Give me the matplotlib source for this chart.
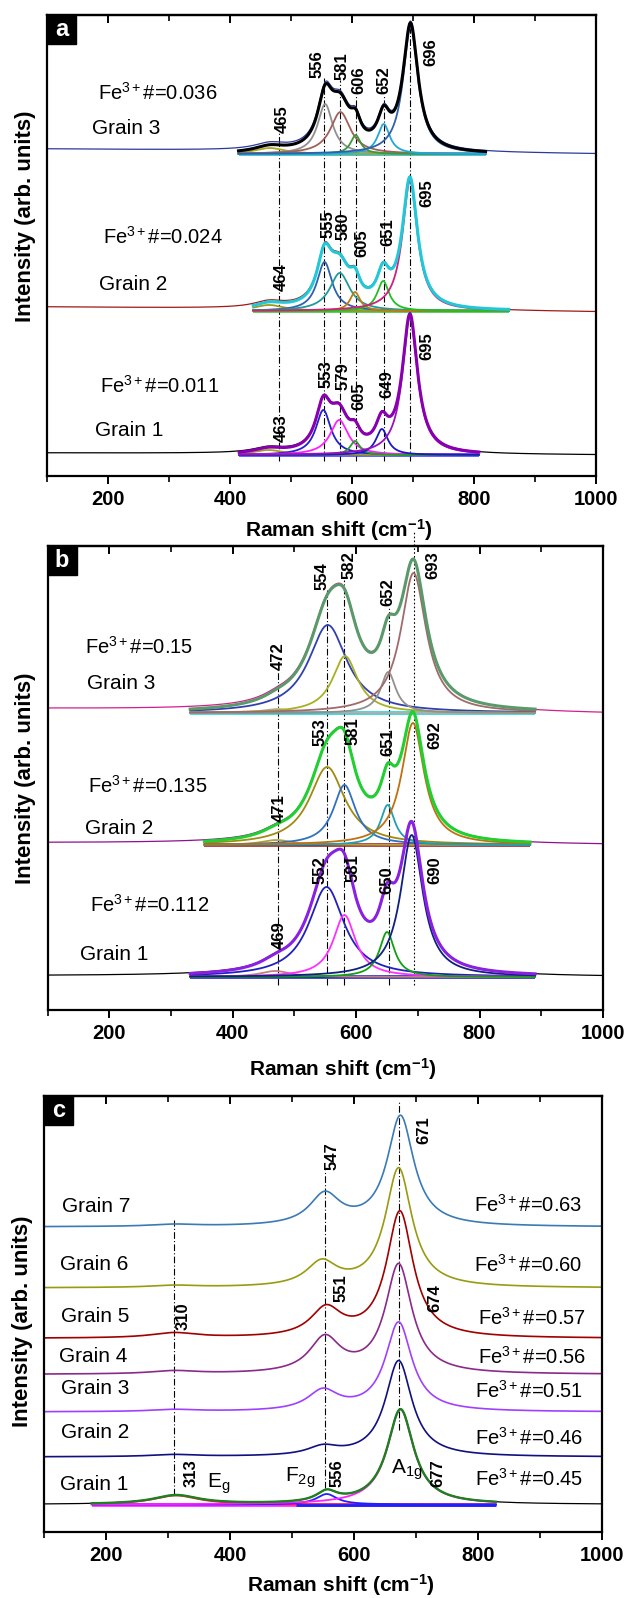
import numpy as np
import matplotlib
matplotlib.use('Agg')
import matplotlib.pyplot as plt
from matplotlib.patches import Rectangle

plt.rcParams['font.family'] = ['Liberation Sans', 'DejaVu Sans']
plt.rcParams['mathtext.fontset'] = 'custom'
plt.rcParams['mathtext.rm'] = 'Liberation Sans'
plt.rcParams['mathtext.it'] = 'Liberation Sans:italic'
plt.rcParams['mathtext.bf'] = 'Liberation Sans:bold'

# ---------------- panel a : three grains, Lorentzian fit components ----------------
a_grains = ['Grain 3', 'Grain 2', 'Grain 1']
a_fe = ['0.036', '0.024', '0.011']
a_offset = [322, 165, 21]                 # baseline height of each spectrum
a_fit_range = [(414, 819), (438, 857), (415, 808)]
a_raw_bg = [(5, 0), (4, -1), (2, 0)]      # raw background at 100 / 1000 cm-1
a_g3_pos = [465, 556, 581, 606, 652, 696]
a_g3_amp = [6, 50, 42, 19, 30, 127]
a_g3_hw = [30, 15, 20, 10, 12, 15]
a_g2_pos = [464, 555, 580, 605, 651, 695]
a_g2_amp = [6, 49, 38, 19, 30, 130]
a_g2_hw = [30, 15, 20, 10, 12, 15]
a_g1_pos = [463, 553, 579, 605, 649, 695]
a_g1_amp = [5, 45, 35, 14, 26, 138]
a_g1_hw = [30, 15, 18, 10, 12, 15]
a_lines = [481, 554, 581, 606, 652, 695]
a_lines_top = [343, 398, 396, 381, 381, 453]

# ---------------- panel b ----------------
b_grains = ['Grain 3', 'Grain 2', 'Grain 1']
b_fe = ['0.15', '0.135', '0.112']
b_offset = [297, 165, 33]
b_fit_range = [(331, 890), (354, 882), (331, 890)]
b_raw_bg = [(4, -1), (2, 0), (1, 0)]
b_g3_pos = [472, 554, 582, 652, 693]
b_g3_amp = [4, 88, 57, 41, 140]
b_g3_hw = [30, 38, 25, 15, 25]
b_g2_pos = [471, 553, 581, 651, 692]
b_g2_amp = [5, 78, 60, 40, 122]
b_g2_hw = [30, 35, 22, 14, 22]
b_g1_pos = [469, 552, 581, 650, 690]
b_g1_amp = [6, 90, 62, 45, 142]
b_g1_hw = [30, 35, 22, 15, 22]
b_lines = [474, 553, 581, 653, 693]
b_lines_top = [340, 420, 430, 403, 480]

# ---------------- panel c ----------------
c_grains = ['Grain 7', 'Grain 6', 'Grain 5', 'Grain 4', 'Grain 3', 'Grain 2', 'Grain 1']
c_fe = ['0.63', '0.60', '0.57', '0.56', '0.51', '0.46', '0.45']
c_offset = [305, 244, 193.5, 157.5, 120, 75, 27.5]
c_a1g_pos = [675, 672, 674, 672, 672, 672]
c_a1g_amp = [110, 119, 126, 109, 89, 96]
c_f2g_pos = [553, 548, 555, 553, 550, 550]
c_f2g_amp = [31, 24, 28, 35, 20, 8.5]
c_eg_amp = [2, 2, 5, 3, 2, 2]
c_g1_pos = [313, 556, 675]
c_g1_amp = [9, 10.5, 95]
c_g1_hw = [45, 20, 26]
c_fit_range = (177, 829)

x = np.linspace(100, 1000, 1801)


def lor(xx, pos, amp, hw):
    return amp * hw ** 2 / ((xx - pos) ** 2 + hw ** 2)


def fitted(ax, off, rng, bg, pos, amp, hw, raw_c, fit_c, comp_c, base_c, fit_lw=2.2):
    tot = sum(lor(x, p, a, w) for p, a, w in zip(pos, amp, hw))
    ax.plot(x, off + tot + np.interp(x, [100, 1000], bg), color=raw_c, lw=0.9)
    xf = np.linspace(rng[0], rng[1], 1200)
    ax.plot(rng, [off, off], color=base_c, lw=2.6, solid_capstyle='butt')
    for p, a, w, c in zip(pos, amp, hw, comp_c):
        ax.plot(xf, off + lor(xf, p, a, w), color=c, lw=1.3)
    ax.plot(xf, off + sum(lor(xf, p, a, w) for p, a, w in zip(pos, amp, hw)),
            color=fit_c, lw=fit_lw)


def style(ax, letter, ylim, lab_y, lab_x):
    ax.set_xlim(100, 1000)
    ax.set_ylim(0, ylim)
    ax.set_yticks([])
    ax.set_xticks([200, 400, 600, 800, 1000])
    ax.set_xticks(np.arange(100, 1001, 100), minor=True)
    ax.tick_params(axis='x', which='major', direction='out', length=6, width=1.4,
                   labelsize=14.5, pad=4)
    ax.tick_params(axis='x', which='minor', direction='out', length=4, width=1.2)
    for lab in ax.get_xticklabels():
        lab.set_fontweight('bold')
    for s in ax.spines.values():
        s.set_linewidth(1.6)
    top = ax.secondary_xaxis('top')
    top.set_xticks([200, 400, 600, 800, 1000])
    top.set_xticks(np.arange(100, 1001, 100), minor=True)
    top.tick_params(axis='x', which='major', direction='in', length=6, width=1.4,
                    labeltop=False)
    top.tick_params(axis='x', which='minor', direction='in', length=4, width=1.2)
    top.spines['top'].set_linewidth(1.6)
    ax.set_xlabel(r'Raman shift (cm$^{\mathbf{-1}}$)', fontsize=15, fontweight='bold')
    ax.xaxis.set_label_coords(0.532, lab_x)
    ax.set_ylabel('Intensity (arb. units)', fontsize=16, fontweight='bold')
    ax.yaxis.set_label_coords(-0.02, lab_y)
    bw = 29 / (ax.get_position().width * 626)
    bh = 29 / (ax.get_position().height * 1598)
    ax.add_patch(Rectangle((0, 1 - bh), bw, bh, transform=ax.transAxes,
                           color='black', zorder=6, clip_on=False))
    ax.text(bw / 2, 1 - bh / 2, letter, transform=ax.transAxes, color='white',
            fontsize=17, fontweight='bold', ha='center', va='center', zorder=7)


def vline(ax, xv, y0, y1, ls=(0, (6, 2, 1, 2)), clip=True):
    ax.plot([xv, xv], [y0, y1], color='black', lw=0.8, ls=ls, clip_on=clip, zorder=1)


def plabel(ax, xv, yv, s):
    ax.text(xv, yv, s, rotation=90, fontsize=12, fontweight='bold',
            ha='center', va='center')


fig = plt.figure(figsize=(6.26, 15.98), dpi=100)
ax_a = fig.add_axes([47 / 626, (1598 - 476) / 1598, 549 / 626, 461 / 1598])
ax_b = fig.add_axes([47.6 / 626, (1598 - 1010) / 1598, 555.4 / 626, 464 / 1598])
ax_c = fig.add_axes([44 / 626, (1598 - 1532) / 1598, 558 / 626, 436 / 1598])

# ---- panel a ----
for xv, yt in zip(a_lines, a_lines_top):
    vline(ax_a, xv, 15, yt)
fitted(ax_a, a_offset[0], a_fit_range[0], a_raw_bg[0], a_g3_pos, a_g3_amp, a_g3_hw,
       '#2b3a9e', 'black',
       ['#a8a820', '#909090', '#a0605a', '#3a9a3a', '#20a8d8', '#3060a8'], '#20b8d8')
fitted(ax_a, a_offset[1], a_fit_range[1], a_raw_bg[1], a_g2_pos, a_g2_amp, a_g2_hw,
       '#a01818', '#20c8d8',
       ['#9a9a20', '#3060b0', '#209a9a', '#c07a10', '#20c020', '#d0207a'], '#40c040')
fitted(ax_a, a_offset[2], a_fit_range[2], a_raw_bg[2], a_g1_pos, a_g1_amp, a_g1_hw,
       'black', '#8a00b0',
       ['#a0a020', '#2020d0', '#ff20ff', '#20a020', '#1a1ac0', '#9a10c0'], '#4040ff')
a_text_x = [184, 192, 187]
a_text_y = [383, 239, 90]
a_grain_x = [174, 185, 179]
a_grain_y = [347, 192, 45]
for i in range(3):
    ax_a.text(a_text_x[i], a_text_y[i], r'Fe$^{\mathregular{3+}}$#=' + a_fe[i],
              fontsize=14.5, va='center')
    ax_a.text(a_grain_x[i], a_grain_y[i], a_grains[i], fontsize=15, va='center')
a_lab = [(486, 357, '465'), (543, 412, '556'), (583, 410, '581'), (611, 396, '606'),
         (653, 396, '652'), (729, 424, '696'),
         (484, 199, '464'), (560, 252, '555'), (586, 250, '580'), (616, 233, '605'),
         (659, 244, '651'), (722, 283, '695'),
         (484, 48, '463'), (558, 102, '553'), (586, 100, '579'), (612, 80, '605'),
         (657, 92, '649'), (722, 130, '695')]
for xv, yv, s in a_lab:
    plabel(ax_a, xv, yv, s)
style(ax_a, 'a', 461, 0.564, -0.09)

# ---- panel b ----
for xv, yt in zip(b_lines, b_lines_top):
    if xv == 693:
        vline(ax_b, xv, 25, yt, ls=(0, (1.5, 2)), clip=False)
    else:
        vline(ax_b, xv, 25, yt)
fitted(ax_b, b_offset[0], b_fit_range[0], b_raw_bg[0], b_g3_pos, b_g3_amp, b_g3_hw,
       '#d0208a', '#5a9a6a',
       ['#b0b0b0', '#3040b0', '#a8b020', '#909090', '#a06a6a'], '#20d0d8')
fitted(ax_b, b_offset[1], b_fit_range[1], b_raw_bg[1], b_g2_pos, b_g2_amp, b_g2_hw,
       '#901090', '#20d030',
       ['#b0a040', '#a08a10', '#3070c0', '#20a0b0', '#c07010'], '#a02020')
fitted(ax_b, b_offset[2], b_fit_range[2], b_raw_bg[2], b_g1_pos, b_g1_amp, b_g1_hw,
       'black', '#8a20e0',
       ['#c08080', '#2020c0', '#ff30ff', '#10a010', '#102080'], '#2020c0')
b_text_x = [161, 166, 169]
b_text_y = [363, 224, 105]
b_grain_x = [164, 161, 153]
b_grain_y = [327, 182, 55]
for i in range(3):
    ax_b.text(b_text_x[i], b_text_y[i], r'Fe$^{\mathregular{3+}}$#=' + b_fe[i],
              fontsize=14.5, va='center')
    ax_b.text(b_grain_x[i], b_grain_y[i], b_grains[i], fontsize=15, va='center')
b_lab = [(474, 354, '472'), (545, 434, '554'), (589, 445, '582'), (652, 418, '652'),
         (725, 445, '693'),
         (475, 202, '471'), (541, 278, '553'), (595, 279, '581'), (651, 268, '651'),
         (728, 275, '692'),
         (476, 75, '469'), (541, 140, '552'), (595, 142, '581'), (650, 130, '650'),
         (728, 140, '690')]
for xv, yv, s in b_lab:
    plabel(ax_b, xv, yv, s)
style(ax_b, 'b', 464, 0.5, -0.1)

# ---- panel c ----
vline(ax_c, 310, 37, 312)
vline(ax_c, 553, 44, 362)
vline(ax_c, 672, 102, 432)
c_colors = ['#3a7ab5', '#9a9a10', '#a00000', '#8a2a8a', '#a040ff', '#101080']
for i in range(6):
    y = (c_offset[i] + lor(x, c_a1g_pos[i], c_a1g_amp[i], 26)
         + lor(x, c_f2g_pos[i], c_f2g_amp[i], 30) + lor(x, 310, c_eg_amp[i], 45))
    ax_c.plot(x, y, color=c_colors[i], lw=1.2)
fitted(ax_c, c_offset[6], c_fit_range, (0, 0), c_g1_pos, c_g1_amp, c_g1_hw,
       'black', '#208020', ['#ff2020', '#2020ff', '#ff20ff'], '#ff20ff', fit_lw=1.7)
ax_c.plot([c_fit_range[0] + 330, c_fit_range[1]], [c_offset[6], c_offset[6]],
          color='#2020ff', lw=2, solid_capstyle='butt')
c_grain_y = [326, 267, 216, 176, 143, 99, 48]
c_grain_x = [129, 126, 127, 124, 127, 127, 126]
c_fe_y = [327, 267, 214.5, 175, 141, 94, 53]
c_fe_x = [968, 968, 974, 974, 969, 969, 969]
for i in range(7):
    ax_c.text(c_grain_x[i], c_grain_y[i], c_grains[i], fontsize=15, va='center')
    ax_c.text(c_fe_x[i], c_fe_y[i], r'Fe$^{\mathregular{3+}}$#=' + c_fe[i],
              fontsize=14.5, va='center', ha='right')
c_lab = [(712, 402, '671'), (565, 376, '547'), (579, 244, '551'), (730, 234, '674'),
         (324, 216, '310'), (337, 59, '313'), (572, 59, '556'), (736, 59, '677')]
for xv, yv, s in c_lab:
    plabel(ax_c, xv, yv, s)
ax_c.text(363, 48, r'E$_{\mathregular{g}}$', fontsize=15, va='center')
ax_c.text(489, 54, r'F$_{\mathregular{2g}}$', fontsize=15, va='center')
ax_c.text(659, 62, r'A$_{\mathregular{1g}}$', fontsize=15, va='center')
style(ax_c, 'c', 436, 0.484, -0.092)

fig.savefig('out.png', dpi=100)
